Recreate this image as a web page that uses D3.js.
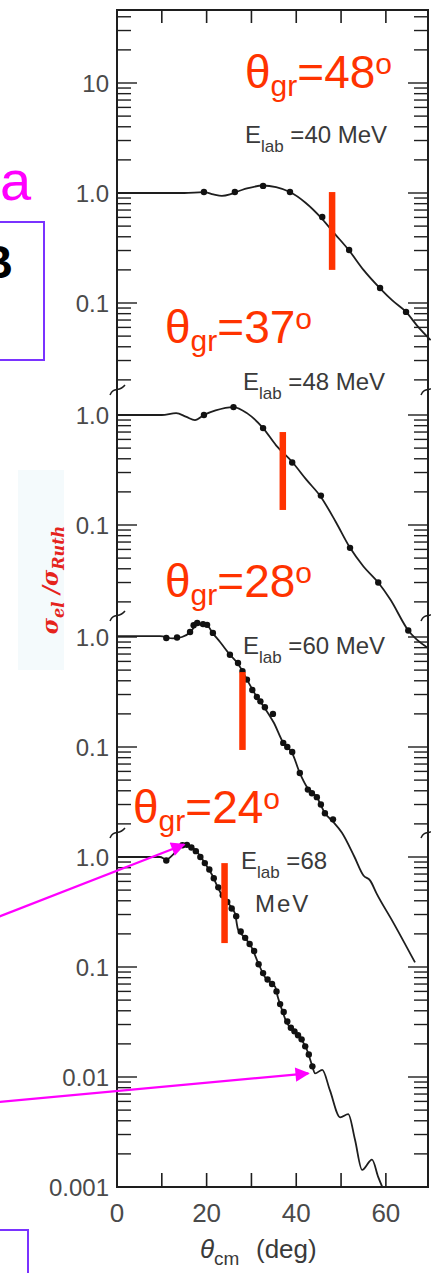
<!DOCTYPE html>
<html>
<head>
<meta charset="utf-8">
<script src="https://cdn.jsdelivr.net/npm/d3@7"></script>
<style>
  html, body { margin: 0; padding: 0; background: #fff; }
  svg { display: block; }
</style>
</head>
<body>
<svg id="chart" width="431" height="1273"></svg>
<script>
// Elastic scattering, sigma_el / sigma_Ruth versus c.m. angle, four lab energies

const angleLabels = [0, 20, 40, 60];
const angleTicks = [10, 20, 30, 40, 50, 60];
const energyText = ["=40 MeV", "=48 MeV", "=60 MeV", "=68"];
const grazingAngles = [48, 37, 28, 24];
const grazingBarTop = [1.02, 0.70, 0.48, 0.88];
const grazingBarBottom = [0.20, 0.137, 0.094, 0.165];

// 40 MeV
const curve40Angle = [0, 10, 15, 19.4, 21.5, 23.4, 25.2, 26.6, 29, 32.6, 35.5, 38.6, 42, 45.8, 48.5, 51.8, 55, 58.7, 61.5, 64.5, 67, 70];
const curve40Ratio = [1.0, 1.0, 1.0, 1.02, 0.97, 0.94, 0.97, 1.02, 1.1, 1.17, 1.13, 1.02, 0.82, 0.58, 0.43, 0.30, 0.20, 0.136, 0.105, 0.083, 0.062, 0.046];
const data40Angle = [19.4, 26.3, 32.6, 38.6, 45.8, 51.8, 58.7, 64.5];
const data40Ratio = [1.02, 1.02, 1.16, 1.02, 0.605, 0.303, 0.137, 0.083];

// 48 MeV
const curve48Angle = [0, 10, 13.2, 15.5, 17.4, 19.4, 22, 26, 29, 32.6, 35.5, 39.1, 42.3, 45.5, 48.8, 52, 55, 58.3, 61, 65, 69.4];
const curve48Ratio = [1.0, 1.0, 1.04, 0.96, 0.90, 1.0, 1.1, 1.18, 1.04, 0.76, 0.53, 0.374, 0.257, 0.18, 0.107, 0.062, 0.042, 0.030, 0.021, 0.011, 0.0076];
const data48Angle = [19.4, 26, 32.6, 39.1, 45.5, 52, 58.3, 65];
const data48Ratio = [1.0, 1.18, 0.76, 0.37, 0.185, 0.062, 0.030, 0.011];

// 60 MeV
const curve60Angle = [0, 9.6, 12.5, 14.5, 16.3, 17.9, 20, 21.4, 23, 25.2, 27, 29, 31.2, 33, 35, 37.1, 39.1, 40.8, 42.6, 44.6, 46.4, 48.2, 50.2, 53, 55, 56.5, 58, 61.5, 66.5];
const curve60Ratio = [1.02, 1.02, 0.97, 1.0, 1.1, 1.3, 1.28, 1.08, 0.9, 0.69, 0.57, 0.41, 0.285, 0.225, 0.166, 0.109, 0.088, 0.058, 0.042, 0.035, 0.025, 0.021, 0.0166, 0.0100, 0.0068, 0.0061, 0.0046, 0.0026, 0.0011];
const data60Angle = [11, 13.4, 16.3, 17.1, 17.9, 19.2, 20.1, 21.4, 25.2, 27, 28, 29, 30.2, 31.2, 32, 33, 34.8, 37.1, 38, 39.1, 40.8, 42.6, 43.5, 44.6, 45.5, 46.4, 48.2];
const data60Ratio = [0.98, 0.99, 1.11, 1.28, 1.34, 1.31, 1.29, 1.09, 0.69, 0.58, 0.49, 0.41, 0.33, 0.285, 0.26, 0.23, 0.20, 0.109, 0.10, 0.09, 0.058, 0.041, 0.038, 0.035, 0.030, 0.025, 0.022];

// 68 MeV
const curve68Angle = [0, 5, 9.6, 11, 12.5, 14.7, 16, 17.9, 19.6, 21.2, 22.5, 23.4, 24.8, 26.3, 27.0, 28.6, 30.1, 31.5, 33.0, 35.3, 35.9, 36.8, 37.9, 39.3, 40.8, 42.4, 43.5, 44.2, 45.8, 47.5, 49.8, 51.6, 53.1, 54.7, 56.9, 58.3, 59.2];
const curve68Ratio = [1.0, 1.0, 1.0, 0.95, 1.05, 1.29, 1.27, 1.11, 0.88, 0.69, 0.53, 0.45, 0.38, 0.31, 0.22, 0.184, 0.149, 0.109, 0.081, 0.066, 0.053, 0.041, 0.031, 0.027, 0.023, 0.0176, 0.0129, 0.0108, 0.0116, 0.0076, 0.0043, 0.0046, 0.0027, 0.00143, 0.00177, 0.00123, 0.001];
const data68Angle = [11, 14.6, 15.6, 16.6, 17.6, 18.6, 19.6, 20.6, 21.6, 22.6, 23.6, 24.6, 25.6, 26.6, 27.6, 28.6, 29.6, 30.6, 31.6, 32.6, 33.6, 34.6, 35.6, 36.4, 37.2, 38.0, 38.8, 39.6, 40.4, 41.2, 42.0, 42.8, 43.6];
const data68Ratio = [0.93, 1.28, 1.29, 1.22, 1.13, 1.0, 0.88, 0.77, 0.64, 0.53, 0.45, 0.39, 0.34, 0.29, 0.21, 0.184, 0.162, 0.14, 0.106, 0.088, 0.077, 0.07, 0.06, 0.046, 0.039, 0.032, 0.028, 0.026, 0.024, 0.022, 0.019, 0.016, 0.0125];

const zip = (a, b) => a.map((v, i) => [v, b[i]]);
const curves = [zip(curve40Angle, curve40Ratio), zip(curve48Angle, curve48Ratio), zip(curve60Angle, curve60Ratio), zip(curve68Angle, curve68Ratio)];
const points = [zip(data40Angle, data40Ratio), zip(data48Angle, data48Ratio), zip(data60Angle, data60Ratio), zip(data68Angle, data68Ratio)];

// ---- layout ----
const frame = { l: 117, r: 428, t: 10, b: 1187 };
const decade = 110;
const unity = [193, 415, 637, 857];            // pixel row of 1.0 in each stacked panel
const bands = [[frame.t, 390], [390, 616], [616, 833], [833, frame.b]];
const RED = "#ff3300", INK = "#1e1e1e", GREY = "#3a3a3a", TICKGREY = "#4a4a4a", MAG = "#ff00ff", VIOLET = "#7a33ff";
const SANS = "'Liberation Sans', Arial, sans-serif";

const svg = d3.select("#chart");

const x = d3.scaleLinear().domain([0, 69.4]).range([frame.l, frame.r]);
const yScales = unity.map(u => d3.scaleLog().domain([0.1, 1]).range([u + decade, u]));

// faint panel behind the ordinate title
svg.append("rect").attr("x", 18).attr("y", 470).attr("width", 46).attr("height", 200).attr("fill", "#f4fafc");

// ---- frame ----
svg.append("rect").attr("x", frame.l).attr("y", frame.t).attr("width", frame.r - frame.l).attr("height", frame.b - frame.t)
  .attr("fill", "none").attr("stroke", INK).attr("stroke-width", 2);

// top / bottom angle ticks
const ax = svg.append("g").attr("stroke", INK).attr("stroke-width", 1.6);
angleTicks.forEach(a => {
  ax.append("line").attr("x1", x(a)).attr("x2", x(a)).attr("y1", frame.t).attr("y2", frame.t + 13);
  ax.append("line").attr("x1", x(a)).attr("x2", x(a)).attr("y1", frame.b).attr("y2", frame.b - 14);
});
svg.append("g").selectAll("text").data(angleLabels).join("text")
  .attr("x", d => x(d)).attr("y", 1222).attr("text-anchor", "middle")
  .attr("fill", TICKGREY).style("font-family", SANS).style("font-size", "26px").text(d => d);

// ---- log ticks per panel, both sides ----
const fmt = v => v >= 10 ? "10" : v === 1 ? "1.0" : String(v);
yScales.forEach((ys, p) => {
  const [b0, b1] = bands[p];
  const g = svg.append("g").attr("stroke", INK).attr("stroke-width", 1.4);
  for (let k = -3; k <= 2; k++) {
    for (let m = 1; m <= 9; m++) {
      const v = +(m * Math.pow(10, k)).toPrecision(1);
      const py = ys(v);
      if (py < b0 + 1 || py > b1 + 1) continue;
      const len = m === 1 ? 20 : 14;
      g.append("line").attr("x1", frame.l).attr("x2", frame.l + len).attr("y1", py).attr("y2", py);
      g.append("line").attr("x1", frame.r).attr("x2", frame.r - len).attr("y1", py).attr("y2", py);
      if (m === 1) {
        svg.append("text").attr("x", 109).attr("y", py).attr("dy", "0.36em")
          .attr("text-anchor", "end").attr("fill", TICKGREY)
          .style("font-family", SANS).style("font-size", "24px")
          .text(fmt(v));
      }
    }
  }
});

// axis breaks between panels
bands.slice(1).forEach(b => {
  const yb = b[0];
  [frame.l, frame.r].forEach(xa => {
    svg.append("path")
      .attr("d", `M${xa - 7},${yb + 5} C${xa - 3},${yb - 4} ${xa + 2},${yb + 3} ${xa + 8},${yb - 5}`)
      .attr("fill", "none").attr("stroke", INK).attr("stroke-width", 1.5);
  });
});

// ---- curves and data ----
curves.forEach((c, p) => {
  const ys = yScales[p];
  const line = d3.line().x(d => x(d[0])).y(d => ys(d[1])).curve(d3.curveMonotoneX);
  svg.append("path").datum(c).attr("d", line).attr("fill", "none")
    .attr("stroke", INK).attr("stroke-width", 1.8);
  svg.append("g").selectAll("circle").data(points[p]).join("circle")
    .attr("cx", d => x(d[0])).attr("cy", d => ys(d[1])).attr("r", 3.2).attr("fill", "#111");
});

// grazing-angle markers
grazingAngles.forEach((a, p) => {
  const ys = yScales[p];
  svg.append("line").attr("x1", x(a)).attr("x2", x(a))
    .attr("y1", ys(grazingBarTop[p])).attr("y2", ys(grazingBarBottom[p]))
    .attr("stroke", RED).attr("stroke-width", 6.5);
});

// grazing-angle labels
const grazePos = [[245, 88], [165, 343], [165, 597], [133, 823]];
grazingAngles.forEach((a, p) => {
  const t = svg.append("text").attr("x", grazePos[p][0]).attr("y", grazePos[p][1])
    .attr("fill", RED).style("font-family", SANS).style("font-size", "46px");
  t.append("tspan").text("θ");
  t.append("tspan").attr("dy", 8).style("font-size", "30px").text("gr");
  t.append("tspan").attr("dy", -8).text("=" + a);
  t.append("tspan").attr("dy", -14).style("font-size", "30px").text("o");
});

// energy labels
const energyPos = [[245, 143], [243, 390], [243, 654], [241, 869]];
energyText.forEach((s, p) => {
  const t = svg.append("text").attr("x", energyPos[p][0]).attr("y", energyPos[p][1])
    .attr("fill", GREY).style("font-family", SANS).style("font-size", "24px");
  t.append("tspan").text("E");
  t.append("tspan").attr("dy", 9).style("font-size", "17px").text("lab");
  t.append("tspan").attr("dy", -9).text(" " + s);
});
svg.append("text").attr("x", 255).attr("y", 912).attr("fill", GREY)
  .style("font-family", SANS).style("font-size", "24px").style("letter-spacing", "2px").text("MeV");

// axis titles
const xt = svg.append("text").attr("x", 200).attr("y", 1258).attr("fill", GREY)
  .style("font-family", SANS).style("font-size", "26px");
xt.append("tspan").style("font-style", "italic").text("θ");
xt.append("tspan").attr("dy", 7).style("font-size", "19px").text("cm");
xt.append("tspan").attr("x", 256).attr("dy", -7).text("(deg)");

const yt = svg.append("text").attr("transform", "translate(58,580) rotate(-90)")
  .attr("text-anchor", "middle").attr("fill", "#e5231c")
  .style("font-family", "'DejaVu Serif', serif").style("font-style", "italic").style("font-weight", "bold").style("font-size", "22px");
yt.append("tspan").text("σ");
yt.append("tspan").attr("dy", 6).style("font-size", "16px").text("el");
yt.append("tspan").attr("dy", -6).text(" /σ");
yt.append("tspan").attr("dy", 6).style("font-size", "16px").text("Ruth");

// ---- slide overlays ----
svg.append("text").attr("x", 0).attr("y", 200).attr("fill", MAG)
  .style("font-family", SANS).style("font-size", "56px").text("a");
svg.append("rect").attr("x", -3).attr("y", 222).attr("width", 47).attr("height", 138)
  .attr("fill", "none").attr("stroke", VIOLET).attr("stroke-width", 2);
svg.append("text").attr("x", 13).attr("y", 278).attr("text-anchor", "end").attr("fill", "#000")
  .style("font-family", SANS).style("font-weight", "bold").style("font-size", "46px").text("B");
svg.append("rect").attr("x", -3).attr("y", 1230).attr("width", 31).attr("height", 60)
  .attr("fill", "none").attr("stroke", VIOLET).attr("stroke-width", 2);

const defs = svg.append("defs");
defs.append("marker").attr("id", "head").attr("viewBox", "0 0 10 10").attr("refX", 9).attr("refY", 5)
  .attr("markerWidth", 8).attr("markerHeight", 6.5).attr("markerUnits", "strokeWidth").attr("orient", "auto")
  .append("path").attr("d", "M0,0 L10,5 L0,10 Z").attr("fill", MAG);

// arrows point at the 68 MeV rainbow peak and the onset of the oscillations
const arrowTargets = [[15, 1.3], [42.7, 0.0108]];
const arrowStarts = [917, 1102];
arrowTargets.forEach((t, i) => {
  svg.append("line").attr("x1", -2).attr("y1", arrowStarts[i])
    .attr("x2", x(t[0])).attr("y2", yScales[3](t[1]))
    .attr("stroke", MAG).attr("stroke-width", 2.2).attr("marker-end", "url(#head)");
});
</script>
</body>
</html>
